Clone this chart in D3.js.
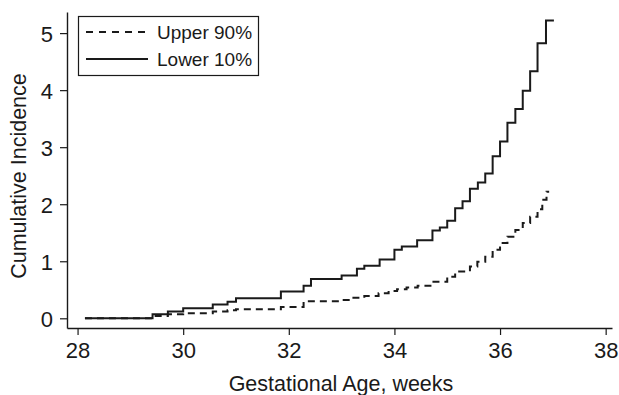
<!DOCTYPE html>
<html>
<head>
<meta charset="utf-8">
<script src="https://cdn.jsdelivr.net/npm/d3@7"></script>
<style>
  body { margin: 0; background: #fff; }
  svg { display: block; font-family: "Liberation Sans", Arial, Helvetica, sans-serif; }
</style>
</head>
<body>
<svg id="chart" width="619" height="395"></svg>
<script>
// step curves (gestational week, cumulative incidence)
var lowerWeeks = [28.14, 29.42, 29.71, 30.0, 30.56, 30.84, 31.0, 31.85, 32.28, 32.42, 33.0, 33.29, 33.43, 33.72, 34.0, 34.14, 34.43, 34.72, 34.86, 35.0, 35.15, 35.29, 35.43, 35.58, 35.72, 35.86, 36.0, 36.14, 36.29, 36.43, 36.57, 36.71, 36.87, 37.02];
var lowerValues = [0, 0.07, 0.12, 0.175, 0.24, 0.29, 0.35, 0.47, 0.57, 0.69, 0.75, 0.87, 0.92, 1.03, 1.2, 1.26, 1.37, 1.54, 1.59, 1.71, 1.93, 2.05, 2.27, 2.38, 2.54, 2.84, 3.10, 3.43, 3.67, 3.99, 4.33, 4.82, 5.22, 5.22];

var upperWeeks = [28.14, 29.42, 29.71, 30.0, 30.56, 30.84, 31.0, 31.85, 32.28, 33.0, 33.2, 33.43, 33.7, 33.89, 34.05, 34.23, 34.44, 34.72, 35.0, 35.15, 35.43, 35.57, 35.72, 35.86, 36.0, 36.14, 36.29, 36.43, 36.57, 36.71, 36.8, 36.88, 36.93];
var upperValues = [0, 0.04, 0.07, 0.09, 0.12, 0.14, 0.16, 0.2, 0.3, 0.32, 0.36, 0.39, 0.44, 0.48, 0.51, 0.54, 0.57, 0.64, 0.73, 0.82, 0.91, 0.99, 1.08, 1.2, 1.32, 1.43, 1.55, 1.67, 1.78, 1.91, 2.08, 2.22, 2.22];

var xTicks = [28, 30, 32, 34, 36, 38];
var yTicks = [0, 1, 2, 3, 4, 5];
var seriesNames = ["Upper 90%", "Lower 10%"];

var svg = d3.select("#chart");
var ink = "#1a1a1a";

var x = d3.scaleLinear().domain([27.8, 38.12]).range([67, 612]);
var y = d3.scaleLinear().domain([-0.17, 5.37]).range([328, 12]);

// axes
var xAxis = svg.append("g")
    .attr("transform", "translate(0,328)")
    .call(d3.axisBottom(x).tickValues(xTicks).tickFormat(d3.format("d"))
        .tickSize(7).tickSizeOuter(0).tickPadding(7));
var yAxis = svg.append("g")
    .attr("transform", "translate(67,0)")
    .call(d3.axisLeft(y).tickValues(yTicks).tickFormat(d3.format("d"))
        .tickSize(7).tickSizeOuter(0).tickPadding(7));

[xAxis, yAxis].forEach(function (g) {
    g.select(".domain").attr("stroke", ink).attr("stroke-width", 1.4);
    g.selectAll(".tick line").attr("stroke", ink).attr("stroke-width", 1.2);
    g.selectAll(".tick text").attr("fill", ink).style("font-size", "22px");
});
yAxis.selectAll(".tick text").attr("dy", "0.36em");

// axis titles
svg.append("text")
    .attr("x", 341).attr("y", 391)
    .attr("text-anchor", "middle")
    .attr("fill", ink)
    .style("font-size", "21.5px")
    .text("Gestational Age, weeks");
svg.append("text")
    .attr("transform", "translate(26,176) rotate(-90)")
    .attr("text-anchor", "middle")
    .attr("fill", ink)
    .style("font-size", "21.5px")
    .text("Cumulative Incidence");

// curves
var line = d3.line()
    .x(function (d) { return x(d[0]); })
    .y(function (d) { return y(d[1]); })
    .curve(d3.curveStepAfter);

svg.append("path")
    .datum(d3.zip(upperWeeks, upperValues))
    .attr("d", line)
    .attr("fill", "none")
    .attr("stroke", ink)
    .attr("stroke-width", 2)
    .attr("stroke-dasharray", "7,5");

svg.append("path")
    .datum(d3.zip(lowerWeeks, lowerValues))
    .attr("d", line)
    .attr("fill", "none")
    .attr("stroke", ink)
    .attr("stroke-width", 2);

// legend
var legend = svg.append("g");
legend.append("rect")
    .attr("x", 78.5).attr("y", 16.5)
    .attr("width", 180).attr("height", 59)
    .attr("fill", "#fff")
    .attr("stroke", ink)
    .attr("stroke-width", 1.2);

seriesNames.forEach(function (name, i) {
    var ly = 32 + i * 27;
    legend.append("line")
        .attr("x1", 86).attr("x2", 148)
        .attr("y1", ly).attr("y2", ly)
        .attr("stroke", ink)
        .attr("stroke-width", 2)
        .attr("stroke-dasharray", i == 0 ? "7,6" : null);
    legend.append("text")
        .attr("x", 157).attr("y", ly + 6.5)
        .attr("fill", ink)
        .style("font-size", "19px")
        .text(name);
});
</script>
</body>
</html>
